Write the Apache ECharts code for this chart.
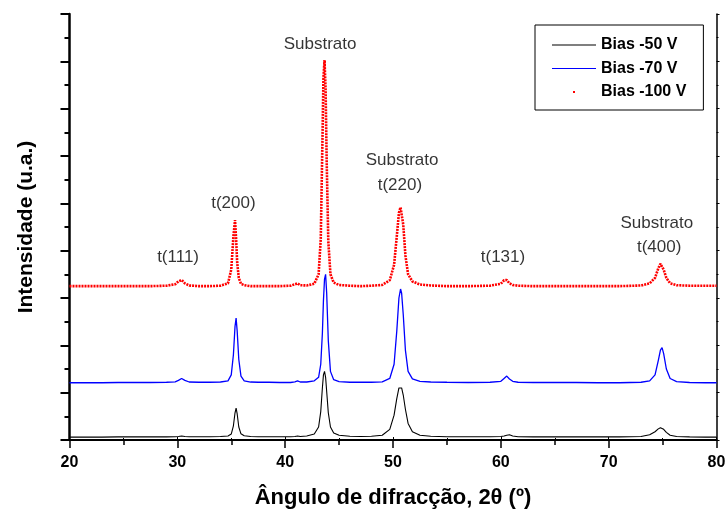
<!DOCTYPE html>
<html>
<head>
<meta charset="utf-8">
<title>XRD Bias</title>
<script src="https://cdn.jsdelivr.net/npm/echarts@6.0.0/dist/echarts.min.js"></script>
<style>
  html, body { margin: 0; padding: 0; background: #fff; }
  #chart { width: 726px; height: 510px; }
</style>
</head>
<body>
<div id="chart"></div>
<script>
// 2theta (deg)
var angle = [20, 21.5, 23, 24.5, 26, 27.5, 29, 29.8, 30.1, 30.4,
  30.7, 31.1, 32, 33, 34, 34.7, 35.0, 35.2, 35.35, 35.45,
  35.55, 35.7, 35.9, 36.2, 36.8, 37.5, 38.5, 39.5, 40.5, 40.9,
  41.15, 41.4, 42, 42.7, 43.1, 43.3, 43.45, 43.55, 43.65, 43.75,
  43.85, 44.0, 44.2, 44.5, 45, 46, 47, 48, 49, 49.7,
  50.1, 50.35, 50.55, 50.7, 50.8, 50.95, 51.15, 51.4, 51.8, 52.5,
  53.5, 55, 57, 59, 60.0, 60.3, 60.55, 60.8, 61.1, 61.6,
  63, 65, 67, 69, 71, 73, 73.8, 74.3, 74.6, 74.8,
  74.95, 75.1, 75.35, 75.7, 76.3, 77.5, 79, 80];

// intensidade (u.a.), curvas deslocadas
var bias50 = [0.12, 0.12, 0.12, 0.13, 0.13, 0.13, 0.13, 0.14, 0.15, 0.17,
  0.15, 0.14, 0.14, 0.14, 0.15, 0.17, 0.25, 0.6, 1.15, 1.35,
  1.1, 0.55, 0.26, 0.18, 0.15, 0.14, 0.14, 0.14, 0.14, 0.15,
  0.17, 0.15, 0.17, 0.25, 0.55, 1.2, 2.2, 2.75, 2.9, 2.65,
  2.05, 1.15, 0.55, 0.3, 0.2, 0.16, 0.15, 0.16, 0.2, 0.45,
  1.05, 1.75, 2.2, 2.27, 2.2, 1.9, 1.3, 0.7, 0.35, 0.2,
  0.16, 0.14, 0.14, 0.14, 0.15, 0.17, 0.2, 0.22, 0.17, 0.14,
  0.13, 0.13, 0.13, 0.13, 0.13, 0.15, 0.22, 0.35, 0.47, 0.52,
  0.51, 0.45, 0.32, 0.2, 0.15, 0.13, 0.12, 0.12];

var bias70 = [2.42, 2.42, 2.42, 2.43, 2.43, 2.43, 2.44, 2.46, 2.52, 2.6,
  2.52, 2.45, 2.44, 2.44, 2.45, 2.5, 2.75, 3.6, 4.8, 5.15,
  4.6, 3.4, 2.7, 2.5, 2.45, 2.44, 2.44, 2.43, 2.43, 2.46,
  2.5, 2.45, 2.45, 2.5, 2.65, 3.2, 4.5, 5.9, 6.8, 7.0,
  6.2, 4.2, 2.9, 2.55, 2.47, 2.44, 2.44, 2.44, 2.46, 2.6,
  3.2, 4.6, 6.0, 6.38, 6.2, 5.3, 3.8, 2.9, 2.58, 2.48,
  2.45, 2.44, 2.43, 2.44, 2.48, 2.6, 2.7, 2.58, 2.48, 2.44,
  2.43, 2.43, 2.43, 2.42, 2.42, 2.44, 2.5, 2.75, 3.35, 3.8,
  3.9, 3.65, 3.0, 2.6, 2.47, 2.43, 2.42, 2.42];

var bias100 = [6.5, 6.5, 6.5, 6.5, 6.5, 6.5, 6.52, 6.58, 6.7, 6.76,
  6.62, 6.53, 6.5, 6.5, 6.52, 6.62, 7.2, 8.6, 9.29, 8.5,
  7.5, 6.85, 6.6, 6.54, 6.5, 6.5, 6.5, 6.5, 6.52, 6.58,
  6.62, 6.54, 6.53, 6.6, 7.0, 8.5, 12.5, 15.3, 16.05, 14.8,
  11.8, 8.4, 7.0, 6.65, 6.55, 6.52, 6.5, 6.52, 6.55, 6.75,
  7.4, 8.6, 9.6, 9.83, 9.8, 9.1, 7.8, 7.0, 6.7, 6.57,
  6.53, 6.5, 6.5, 6.52, 6.6, 6.75, 6.76, 6.62, 6.55, 6.52,
  6.5, 6.5, 6.5, 6.5, 6.5, 6.53, 6.62, 6.85, 7.25, 7.45,
  7.42, 7.2, 6.85, 6.62, 6.54, 6.52, 6.52, 6.52];

// anotacoes dos picos
var annoText = ["Substrato", "t(200)", "t(111)", "Substrato", "t(220)", "t(131)", "Substrato", "t(400)"];
var annoX = [43.24, 35.2, 30.07, 50.84, 50.64, 60.2, 74.47, 74.68];
var annoY = [16.74, 10.0, 7.7, 11.82, 10.76, 7.7, 9.16, 8.14];

var font = "'Liberation Sans', Arial, sans-serif";
var lineIcon = "path://M0,0M44,14M0,6.5h44v1h-44z";
var dotIcon = "path://M0,0M44,14M21,6h2v2h-2z";

function pairs(ys) {
  return angle.map(function (x, i) { return [x, ys[i]]; });
}

var chart = echarts.init(document.getElementById("chart"));
chart.setOption({
  animation: false,
  backgroundColor: "#fff",
  textStyle: { fontFamily: font },
  grid: { left: 69.5, right: 9.5, top: 14, bottom: 70, outerBoundsMode: "none", containLabel: false },
  legend: {
    orient: "vertical",
    left: 535,
    top: 25,
    padding: [12, 17, 10, 17],
    borderColor: "#000",
    borderWidth: 1,
    borderRadius: 0,
    backgroundColor: "#fff",
    itemWidth: 44,
    itemHeight: 14,
    itemGap: 7.5,
    textStyle: { fontFamily: font, fontSize: 16, fontWeight: "bold", color: "#000" },
    data: [
      { name: "Bias -50 V", icon: lineIcon, itemStyle: { color: "#000" } },
      { name: "Bias -70 V", icon: lineIcon, itemStyle: { color: "#0000ff" } },
      { name: "Bias -100 V", icon: dotIcon, itemStyle: { color: "#ff0000" } }
    ]
  },
  xAxis: [
    {
      type: "value",
      position: "bottom",
      min: 20,
      max: 80,
      interval: 10,
      name: "Ângulo de difracção, 2θ (º)",
      nameLocation: "middle",
      nameGap: 47,
      nameTextStyle: { fontFamily: font, fontSize: 22, fontWeight: "bold", color: "#000" },
      axisLine: { lineStyle: { color: "#000", width: 2 } },
      axisTick: { inside: false, length: 8, lineStyle: { color: "#000", width: 1.5 } },
      minorTick: { show: true, splitNumber: 2, length: 5, lineStyle: { color: "#000", width: 1.5 } },
      axisLabel: { fontFamily: font, fontSize: 16, fontWeight: "bold", color: "#000", margin: 15 },
      splitLine: { show: false }
    },
    {
      type: "value",
      position: "top",
      min: 20,
      max: 80,
      interval: 10,
      axisLine: { lineStyle: { color: "#000", width: 1.5 } },
      axisTick: { inside: false, length: 3, lineStyle: { color: "#000", width: 1 } },
      minorTick: { show: true, splitNumber: 2, length: 2, lineStyle: { color: "#000", width: 1 } },
      axisLabel: { show: false },
      splitLine: { show: false }
    }
  ],
  yAxis: [
    {
      type: "value",
      position: "left",
      min: 0,
      max: 18,
      interval: 2,
      name: "Intensidade (u.a.)",
      nameLocation: "middle",
      nameGap: 33,
      nameTextStyle: { fontFamily: font, fontSize: 21, fontWeight: "bold", color: "#000" },
      axisLine: { show: true, lineStyle: { color: "#000", width: 2.5 } },
      axisTick: { show: true, inside: false, length: 9, lineStyle: { color: "#000", width: 2 } },
      minorTick: { show: true, splitNumber: 2, length: 5, lineStyle: { color: "#000", width: 2 } },
      axisLabel: { show: false },
      splitLine: { show: false }
    },
    {
      type: "value",
      position: "right",
      min: 0,
      max: 18,
      interval: 2,
      axisLine: { show: true, lineStyle: { color: "#000", width: 1.5 } },
      axisTick: { show: true, inside: false, length: 3, lineStyle: { color: "#000", width: 1 } },
      minorTick: { show: true, splitNumber: 2, length: 2, lineStyle: { color: "#000", width: 1 } },
      axisLabel: { show: false },
      splitLine: { show: false }
    }
  ],
  series: [
    {
      name: "Bias -50 V",
      type: "line",
      symbol: "none",
      color: "#000",
      lineStyle: { color: "#000", width: 1.1 },
      data: pairs(bias50)
    },
    {
      name: "Bias -70 V",
      type: "line",
      symbol: "none",
      color: "#0000ff",
      lineStyle: { color: "#0000ff", width: 1.3 },
      data: pairs(bias70)
    },
    {
      name: "Bias -100 V",
      type: "line",
      symbol: "none",
      color: "#ff0000",
      lineStyle: { color: "#ff0000", width: 2.6, type: [2, 1] },
      data: pairs(bias100)
    },
    {
      name: "anotacoes",
      type: "scatter",
      silent: true,
      symbolSize: 1,
      z: 5,
      itemStyle: { color: "rgba(0,0,0,0)" },
      label: {
        show: true,
        position: "inside",
        fontFamily: font,
        fontSize: 17,
        color: "#000",
        formatter: function (p) { return p.value[2]; }
      },
      data: annoX.map(function (x, i) { return [x, annoY[i], annoText[i]]; })
    }
  ]
});
</script>
</body>
</html>
